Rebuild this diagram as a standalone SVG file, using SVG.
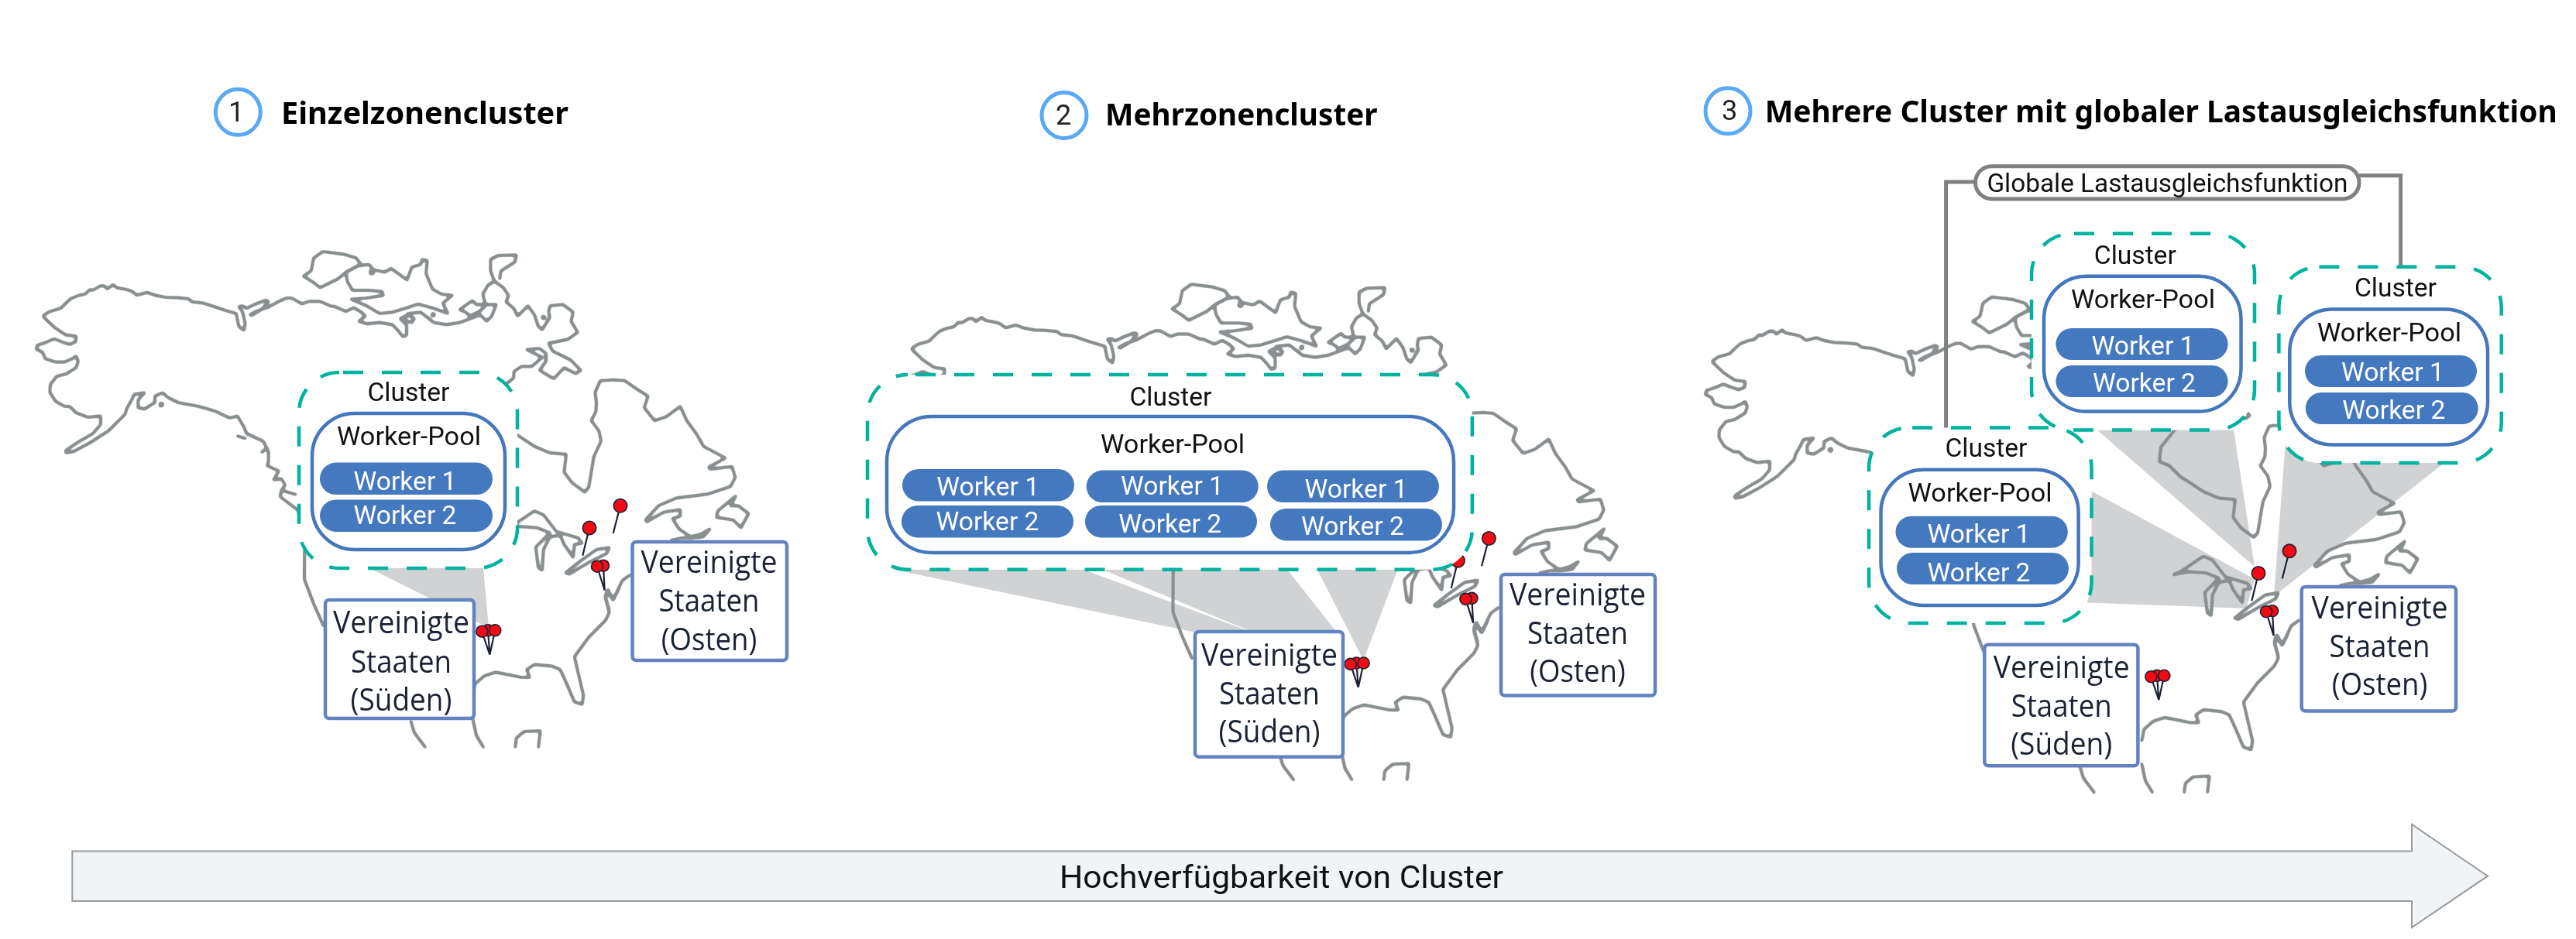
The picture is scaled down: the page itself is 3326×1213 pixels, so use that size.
<svg xmlns="http://www.w3.org/2000/svg" xmlns:xlink="http://www.w3.org/1999/xlink" width="3326" height="1213" viewBox="0 0 3326 1213">
<style>
.c{fill:#fff;stroke:#00b39e;stroke-width:4.5;stroke-dasharray:26 24}
.p{fill:#fff;stroke:#4577bd;stroke-width:4.5}
.w{fill:#4478bf}
.b{fill:#fff;stroke:#6283bf;stroke-width:4.5}
.wedge{fill:#d0d2d3;stroke:none}
text{font-family:"Roboto","Noto Sans",sans-serif;text-anchor:middle;fill:#111}
.t{font-family:"Noto Sans","Roboto",sans-serif;font-weight:700;font-size:40px;text-anchor:start;fill:#000}
.n{font-size:36px;fill:#222}
.cl{font-size:34px}
.wp{font-size:34px}
.wt{font-size:34px;fill:#fff}
.bt{font-family:"Open Sans","Noto Sans",sans-serif;font-size:40px;fill:#1a2233}
.ring{fill:#fff;stroke:#5aa9f5;stroke-width:5}
.lb{fill:#fff;stroke:#808080;stroke-width:5}
.conn{fill:none;stroke:#808080;stroke-width:5}
.m{fill:none;stroke:#8a8f91;stroke-width:11;stroke-linejoin:round}
.d{fill:#8a8f91}
.pin{fill:#f00a14;stroke:#1a2233;stroke-width:1.6}
.pl{stroke:#1a2233;stroke-width:2.2;fill:none}
</style>
<defs>
<filter id="soft" filterUnits="userSpaceOnUse" x="0" y="0" width="3326" height="1213">
<feGaussianBlur stdDeviation="1.6"/>
<feComponentTransfer><feFuncA type="linear" slope="3.2" intercept="-0.85"/></feComponentTransfer>
</filter>
<g id="map">
<g transform="translate(30 300) scale(.33333)">
<path class="m" d="M75,325 L100,308 L145,295 L165,275 L185,257 L215,245 L240,240 L258,222 L270,225 L300,207 L315,208 L325,220 L348,203 L362,215 L400,222 L420,228 L440,244 L480,233 L510,244 L550,252 L600,254 L640,258 L655,270 L700,275 L750,292 L790,305 L825,315 L830,340 L835,365 L855,380 L860,355 L850,310 L835,288 L850,285 L865,295 L900,278 L940,263 L950,268 L925,298 L885,322 L878,320 L905,305 L950,290 L990,268 L1020,255 L1040,255 L1080,278 L1105,268 L1150,268 L1200,290"/>
<path class="m" d="M75,325 L120,368 L165,398 L205,403 L203,425 L180,435 L150,425 L120,413 L85,428 L55,437 L50,453 L75,465 L85,490 L125,503 L160,503 L190,490 L205,480 L213,500 L205,525 L165,550 L130,558 L105,590 L103,620 L125,655 L160,675 L180,675 L205,700 L250,717 L300,712 L300,745 L270,780 L210,815 L165,845 L165,855 L195,850 L260,815 L330,770 L395,705 L400,685 L420,650 L430,628 L470,622 L445,650 L445,680 L470,685 L510,660 L510,635 L540,622 L560,640 L600,660 L680,675 L740,692 L800,720 L830,712 L855,755 L865,780 L930,810 L950,850 L950,890 L945,905 L990,925 L970,960 L1000,955 L1015,980 L1000,1000 L1060,1018"/>
<path class="m" d="M1000,1000 L995,1025 L1065,1078 L1090,1185 L1089,1345 L1125,1440 L1165,1530"/>
<circle class="d" cx="535" cy="668" r="11"/>
<path class="m" d="M825,788 L865,800"/>
<path class="m" d="M920,855 L940,840"/>
</g>
<g transform="translate(380 300) scale(.33333)">
<path class="m" d="M150,285 L200,307 L230,292 L260,310 L275,325 L250,345 L280,355 L330,350 L380,358 L405,385 L420,405 L435,400 L435,360 L410,335 L440,320 L465,335 L455,350 L425,340 L440,315 L490,310 L515,330 L540,350 L590,358 L640,350 L680,335 L720,320 L745,345 L765,325 L782,280 L745,280 L720,305 L680,325 L665,310 L640,300 L690,265 L705,280 L740,280 L730,240 L750,205 L775,190"/>
<path class="m" d="M775,190 L760,150 L760,105 L790,90 L860,88 L855,115 L800,150 L795,185"/>
<path class="m" d="M775,190 L810,215 L830,245 L820,270 L850,295 L865,325 L905,285 L930,320 L945,365 L960,378 L990,330 L985,310 L990,285 L1040,280 L1080,310 L1072,345 L1098,388 L1060,415 L985,430 L1000,460 L1070,495 L1110,535 L1090,548 L1045,525 L1005,568 L950,535 L975,500 L975,470 L950,450 L900,455 L960,485 L920,520 L880,520 L850,540 L850,565 L825,585"/>
<path class="m" d="M35,170 L65,150 L75,100 L110,75 L190,85 L240,100 L258,125 L200,155 L170,180 L100,215 L75,195 Z"/>
<path class="m" d="M200,155 L245,130 L290,125 L305,145 L350,155 L375,140 L437,185 L455,135 L490,125 L495,105 L515,110 L510,160 L535,220 L570,240 L612,245 L575,275 L595,315 L540,295 L480,278 L430,295 L380,310 L330,315 L280,285 L220,260 L280,255 L345,245 L340,230 L290,225 L225,225 L205,190 Z"/>
<circle class="d" cx="538" cy="320" r="10"/>
<circle class="d" cx="965" cy="330" r="10"/>
<circle class="d" cx="300" cy="155" r="12"/>
</g>
<g transform="translate(660 470) scale(.33333)">
<path class="m" d="M-12,69 L-24,84 L-75,147 L-81,204 L-42,219 L3,264 L27,278 L90,320 L150,345 L213,350 L205,420 L235,460 L285,497 L300,480 L310,420 L320,360 L348,300 L340,260 L310,220 L328,185 L330,150 L325,110 L345,65 L400,62 L440,65 L490,100 L530,125 L515,170 L555,220 L600,205 L655,165 L680,220 L720,275 L745,320 L830,365 L765,400 L770,408 L855,398 L868,440 L850,475 L760,505 L640,520 L570,550 L520,605 L525,612 L590,575 L655,565 L655,590 L625,600 L650,640 L695,670 L735,660 L770,640 L745,670 L700,675 L660,675 L615,685"/>
<path class="m" d="M870,512 L800,570 L795,595 L860,605 L890,635 L920,580 L880,550 L850,550 Z"/>
<path class="m" d="M-30,642 L0,630 L30,610 L90,570 L125,585 L175,650 L260,675 L275,695 L245,700 L240,750 L205,700 L190,665 L150,670 L125,720 L120,800 L105,790 L95,710 L150,655 L100,635 L30,630 L-30,642"/>
<path class="m" d="M210,810 L260,770 L330,720 L380,712 L370,735 L300,770 L225,815 Z"/>
<path class="m" d="M465,815 L430,840 L395,915 L370,880 L365,910 L380,955"/>
</g>
<g transform="translate(560 760) scale(.33333)">
<path class="m" d="M718,0 L695,45 L675,5 L665,30 L680,95 L665,125 L600,190 L545,265 L580,415 L575,450 L545,440 L515,370 L490,315 L460,302 L390,295 L360,315 L372,345 L340,345 L240,325 L195,340 L160,370 L150,420"/>
<path class="m" d="M150,500 L165,570 L195,620"/>
<path class="m" d="M315,620 L320,580 L350,555 L413,552 L405,620"/>
<path class="m" d="M-90,510 L-75,560 L-30,620"/>
</g>
</g>
<g id="pins">
<path class="pl" d="M801,653 L791.7,689 M761,682 L752.3,717.7 M771,732 L780.7,762.7 M779,731 L780.7,762.7 M622.3,816 L632.3,845.7 M630,814 L632.3,845.7 M639.3,814 L632.3,845.7"/>
<circle class="pin" cx="801" cy="653.3" r="8.7"/>
<circle class="pin" cx="761" cy="682" r="8.7"/>
<circle class="pin" cx="779" cy="730.7" r="7.5"/>
<circle class="pin" cx="771" cy="731.7" r="7.5"/>
<circle class="pin" cx="630" cy="814.3" r="7.5"/>
<circle class="pin" cx="622.3" cy="815.7" r="7.5"/>
<circle class="pin" cx="639.3" cy="814.3" r="7.5"/>
</g>
</defs>

<g id="wedges">
<polygon class="wedge" points="477,734 624,734 631,811"/>
<polygon class="wedge" points="1153.7,735.8 1399,735.8 1616.6,816.8 1543,816.8"/>
<polygon class="wedge" points="1423.7,735.8 1662,735.8 1734,827 1734,870 1616,816"/>
<polygon class="wedge" points="1700.8,735.8 1804.7,735.8 1760.5,853"/>
<polygon class="wedge" points="2700.5,634.5 2911,748 2900,786 2695,778.4"/>
<polygon class="wedge" points="2707.8,555.6 2884,555.6 2911,732"/>
<polygon class="wedge" points="2951,570 3156,598 2936,770"/>
</g>

<g id="maps" filter="url(#soft)">
<use id="map-1" href="#map" xlink:href="#map"/>
<use id="map-2" href="#map" xlink:href="#map" transform="translate(1121.4 42.2)"/>
<use id="map-3" href="#map" xlink:href="#map" transform="translate(2155 58.5)"/>
</g>
<g id="map-pins">
<use href="#pins" xlink:href="#pins"/>
<use href="#pins" xlink:href="#pins" transform="translate(1121.4 42.2)"/>
<use href="#pins" xlink:href="#pins" transform="translate(2155 58.5)"/>
</g>

<g id="connectors">
<path class="conn" d="M2549,235 H2512.6 V553"/>
<path class="conn" d="M3046,226.7 H3099.6 V345"/>
</g>

<g id="title-1">
<ellipse class="ring" cx="307.3" cy="144.8" rx="29" ry="29.5"/>
<text class="n" x="305" y="157">1</text>
<text class="t" x="363" y="160" textLength="371" lengthAdjust="spacingAndGlyphs">Einzelzonencluster</text>
</g>
<g id="title-2">
<ellipse class="ring" cx="1374" cy="149" rx="29" ry="29.5"/>
<text class="n" x="1373" y="161">2</text>
<text class="t" x="1427" y="162" textLength="351.5" lengthAdjust="spacingAndGlyphs">Mehrzonencluster</text>
</g>
<g id="title-3">
<ellipse class="ring" cx="2231" cy="143.3" rx="29" ry="29.5"/>
<text class="n" x="2233" y="155">3</text>
<text class="t" x="2278.7" y="158" textLength="1023" lengthAdjust="spacingAndGlyphs">Mehrere Cluster mit globaler Lastausgleichsfunktion</text>
</g>

<g id="cluster-1">
<rect class="c" stroke-dashoffset="45" x="386" y="481" width="282" height="253" rx="52"/>
<text class="cl" x="527.5" y="517.6" textLength="106" lengthAdjust="spacingAndGlyphs">Cluster</text>
<rect class="p" x="403" y="534" width="249" height="176" rx="55"/>
<text class="wp" x="528" y="575" textLength="186" lengthAdjust="spacingAndGlyphs">Worker-Pool</text>
<rect class="w" x="413" y="597.6" width="223" height="41.4" rx="20.7"/>
<text class="wt" x="523" y="632.7" textLength="133" lengthAdjust="spacingAndGlyphs">Worker 1</text>
<rect class="w" x="413" y="645.5" width="223" height="41.4" rx="20.7"/>
<text class="wt" x="523" y="677" textLength="133" lengthAdjust="spacingAndGlyphs">Worker 2</text>
</g>
<g id="zone-sued-1">
<rect class="b" x="420" y="775" width="192" height="153" rx="5"/>
<text class="bt" x="518" y="817.6" textLength="176" lengthAdjust="spacingAndGlyphs">Vereinigte</text>
<text class="bt" x="518" y="869" textLength="130" lengthAdjust="spacingAndGlyphs">Staaten</text>
<text class="bt" x="518" y="917.6" textLength="131" lengthAdjust="spacingAndGlyphs">(Süden)</text>
</g>
<g id="zone-ost-1">
<rect class="b" x="816.5" y="700" width="199.5" height="153" rx="5"/>
<text class="bt" x="915.5" y="740" textLength="176" lengthAdjust="spacingAndGlyphs">Vereinigte</text>
<text class="bt" x="915.5" y="790" textLength="130" lengthAdjust="spacingAndGlyphs">Staaten</text>
<text class="bt" x="915.5" y="840" textLength="123.5" lengthAdjust="spacingAndGlyphs">(Osten)</text>
</g>

<g id="cluster-2">
<rect class="c" stroke-dashoffset="40" x="1120" y="484" width="780.8" height="251.8" rx="52"/>
<text class="cl" x="1511.4" y="524" textLength="106" lengthAdjust="spacingAndGlyphs">Cluster</text>
<rect class="p" x="1145" y="538" width="732" height="176" rx="58"/>
<text class="wp" x="1514" y="585" textLength="186" lengthAdjust="spacingAndGlyphs">Worker-Pool</text>
<rect class="w" x="1165" y="606" width="222" height="41.4" rx="20.7"/>
<text class="wt" x="1275.7" y="640" textLength="133" lengthAdjust="spacingAndGlyphs">Worker 1</text>
<rect class="w" x="1402.7" y="607.6" width="222" height="41.4" rx="20.7"/>
<text class="wt" x="1513.5" y="639" textLength="133" lengthAdjust="spacingAndGlyphs">Worker 1</text>
<rect class="w" x="1636" y="607.6" width="222" height="41.4" rx="20.7"/>
<text class="wt" x="1751" y="643" textLength="133" lengthAdjust="spacingAndGlyphs">Worker 1</text>
<rect class="w" x="1164" y="653" width="222" height="41.4" rx="20.7"/>
<text class="wt" x="1275" y="685" textLength="133" lengthAdjust="spacingAndGlyphs">Worker 2</text>
<rect class="w" x="1401" y="653" width="222" height="41.4" rx="20.7"/>
<text class="wt" x="1510.7" y="687.5" textLength="133" lengthAdjust="spacingAndGlyphs">Worker 2</text>
<rect class="w" x="1640" y="657" width="222" height="41.4" rx="20.7"/>
<text class="wt" x="1746.4" y="691" textLength="133" lengthAdjust="spacingAndGlyphs">Worker 2</text>
</g>
<g id="zone-sued-2">
<rect class="b" x="1543" y="816" width="191" height="161.7" rx="5"/>
<text class="bt" x="1639" y="859.5" textLength="176" lengthAdjust="spacingAndGlyphs">Vereinigte</text>
<text class="bt" x="1639" y="909.6" textLength="130" lengthAdjust="spacingAndGlyphs">Staaten</text>
<text class="bt" x="1639" y="959" textLength="131" lengthAdjust="spacingAndGlyphs">(Süden)</text>
</g>
<g id="zone-ost-2">
<rect class="b" x="1938" y="742" width="199" height="156.5" rx="5"/>
<text class="bt" x="2037" y="782" textLength="176" lengthAdjust="spacingAndGlyphs">Vereinigte</text>
<text class="bt" x="2037" y="831.6" textLength="130" lengthAdjust="spacingAndGlyphs">Staaten</text>
<text class="bt" x="2037" y="881" textLength="123.5" lengthAdjust="spacingAndGlyphs">(Osten)</text>
</g>

<g id="load-balancer">
<rect class="lb" x="2550.6" y="214.7" width="495.4" height="42.3" rx="21"/>
<text class="cl" x="2798.4" y="248" textLength="466" lengthAdjust="spacingAndGlyphs">Globale Lastausgleichsfunktion</text>
</g>
<g id="cluster-3a">
<rect class="c" stroke-dashoffset="47" x="2623" y="301.8" width="288" height="253.8" rx="52"/>
<text class="cl" x="2756.8" y="341" textLength="106" lengthAdjust="spacingAndGlyphs">Cluster</text>
<rect class="p" x="2639" y="356.7" width="254.5" height="174.9" rx="55"/>
<text class="wp" x="2767" y="397.8" textLength="186" lengthAdjust="spacingAndGlyphs">Worker-Pool</text>
<rect class="w" x="2654.4" y="424" width="222.2" height="41" rx="20.5"/>
<text class="wt" x="2767" y="457.7" textLength="133" lengthAdjust="spacingAndGlyphs">Worker 1</text>
<rect class="w" x="2654.4" y="472" width="222.2" height="41" rx="20.5"/>
<text class="wt" x="2768.5" y="505.7" textLength="133" lengthAdjust="spacingAndGlyphs">Worker 2</text>
</g>
<g id="cluster-3b">
<rect class="c" x="2942.4" y="344.7" width="287.3" height="253.3" rx="52"/>
<text class="cl" x="3093" y="383" textLength="106" lengthAdjust="spacingAndGlyphs">Cluster</text>
<rect class="p" x="2956.3" y="399.6" width="255.7" height="174.9" rx="55"/>
<text class="wp" x="3085" y="440.7" textLength="186" lengthAdjust="spacingAndGlyphs">Worker-Pool</text>
<rect class="w" x="2976" y="459" width="222" height="41" rx="20.5"/>
<text class="wt" x="3089.4" y="492.4" textLength="133" lengthAdjust="spacingAndGlyphs">Worker 1</text>
<rect class="w" x="2976.8" y="507" width="222.9" height="41" rx="20.5"/>
<text class="wt" x="3090.8" y="541" textLength="133" lengthAdjust="spacingAndGlyphs">Worker 2</text>
</g>
<g id="cluster-3c">
<rect class="c" stroke-dashoffset="46" x="2413" y="552.4" width="287.5" height="252.6" rx="52"/>
<text class="cl" x="2564.5" y="590" textLength="106" lengthAdjust="spacingAndGlyphs">Cluster</text>
<rect class="p" x="2428.5" y="606.7" width="255.1" height="175.3" rx="55"/>
<text class="wp" x="2556.5" y="647.8" textLength="186" lengthAdjust="spacingAndGlyphs">Worker-Pool</text>
<rect class="w" x="2447.5" y="666.7" width="222.3" height="41" rx="20.5"/>
<text class="wt" x="2555" y="700.8" textLength="133" lengthAdjust="spacingAndGlyphs">Worker 1</text>
<rect class="w" x="2449" y="714" width="222" height="41" rx="20.5"/>
<text class="wt" x="2555" y="751" textLength="133" lengthAdjust="spacingAndGlyphs">Worker 2</text>
</g>
<g id="zone-sued-3">
<rect class="b" x="2562.3" y="832.7" width="198.1" height="156.6" rx="5"/>
<text class="bt" x="2661.7" y="875.6" textLength="176" lengthAdjust="spacingAndGlyphs">Vereinigte</text>
<text class="bt" x="2661.7" y="926" textLength="130" lengthAdjust="spacingAndGlyphs">Staaten</text>
<text class="bt" x="2661.7" y="975" textLength="131" lengthAdjust="spacingAndGlyphs">(Süden)</text>
</g>
<g id="zone-ost-3">
<rect class="b" x="2971.7" y="758" width="199.3" height="160.6" rx="5"/>
<text class="bt" x="3072.6" y="798.6" textLength="176" lengthAdjust="spacingAndGlyphs">Vereinigte</text>
<text class="bt" x="3072.6" y="849" textLength="130" lengthAdjust="spacingAndGlyphs">Staaten</text>
<text class="bt" x="3072.6" y="898.4" textLength="123.5" lengthAdjust="spacingAndGlyphs">(Osten)</text>
</g>

<g id="availability-arrow">
<polygon points="93.3,1099.5 3114,1099.5 3114,1065 3212,1131.7 3114,1198 3114,1164 93.3,1164" fill="#f0f4f7" stroke="#9a9a9a" stroke-width="2"/>
<text x="1654.5" y="1146.7" font-size="40" textLength="573" lengthAdjust="spacingAndGlyphs">Hochverfügbarkeit von Cluster</text>
</g>
</svg>
